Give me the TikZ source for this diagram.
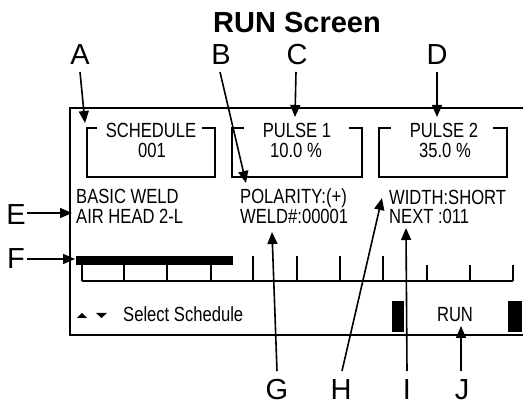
\documentclass[tikz,border=0pt]{standalone}
\usepackage{fontspec}
\setmainfont{Liberation Sans}
\newfontfamily\scrfont[FakeStretch=0.81]{Liberation Sans}
\usetikzlibrary{arrows.meta}
\tikzset{
  scr/.style={font=\scrfont\fontsize{20.5}{24}\selectfont, inner sep=0pt},
  lab/.style={font=\fontsize{29}{32}\selectfont, inner sep=0pt, anchor=base},
  frame/.style={line width=1.8pt, line cap=rect},
  tick/.style={line width=1.6pt},
  arr/.style={line width=1.6pt, -{Triangle[length=12pt,width=10pt]}},
}
\begin{document}
\begin{tikzpicture}[x=1pt,y=-1pt]
\useasboundingbox (0,0) rectangle (523,406);
% title
\node[lab, font=\bfseries\fontsize{29}{32}\selectfont] (title) at (297,33) {RUN Screen};
% outer screen frame
\draw[frame] (523,108) -- (70,108) -- (70,335) -- (523,335);
% boxes
\draw[frame] (96,128) -- (87,128) -- (87,177) -- (215,177) -- (215,128) -- (203,128);
\draw[frame] (243,128) -- (232,128) -- (232,177) -- (362,177) -- (362,128) -- (350,128);
\draw[frame] (390,128) -- (379,128) -- (379,177) -- (507,177) -- (507,128) -- (494,128);
\node[scr, anchor=base] (sch) at (151,138) {SCHEDULE};
\node[scr, anchor=base] (schn) at (152,158) {001};
\node[scr, anchor=base] (p1) at (297,138) {PULSE 1};
\node[scr, anchor=base] (p1n) at (296,158) {10.0 \%};
\node[scr, anchor=base] (p2) at (444,138) {PULSE 2};
\node[scr, anchor=base] (p2n) at (445,158) {35.0 \%};
% info text
\node[scr, anchor=base west] (bw) at (76,204) {BASIC WELD};
\node[scr, anchor=base west] (ah) at (76,224) {AIR HEAD 2-L};
\node[scr, anchor=base west] (pol) at (240,204) {POLARITY:(+)};
\node[scr, anchor=base west] (wn) at (240,224) {WELD\#:00001};
\node[scr, anchor=base west] (wd) at (389,205) {WIDTH:SHORT};
\node[scr, anchor=base west] (nx) at (389,224) {NEXT :011};
% progress bar and scale
\fill (76,256) rectangle (233,265);
\draw[tick] (82,281) -- (513,281);
\foreach \x in {82,124,167,211} \draw[tick] (\x,265) -- (\x,281);
\foreach \x in {253,297,340,383} \draw[tick] (\x,256) -- (\x,281);
\foreach \x in {427,470,513} \draw[tick] (\x,265) -- (\x,281);
% bottom row
\fill (77,318) -- (87,318) -- (82,313) -- cycle;
\fill (96,313) -- (107,313) -- (101.5,318) -- cycle;
\node[scr, anchor=base west] (sel) at (123,322) {Select Schedule};
\fill (392,301) rectangle (404,332);
\fill (508,301) rectangle (522,332);
\node[scr, anchor=base] (run) at (455,322) {RUN};
% labels
\node[lab] (lA) at (80,65) {A};
\node[lab] (lB) at (221,65) {B};
\node[lab] (lC) at (297,65) {C};
\node[lab] (lD) at (437,65) {D};
\node[lab] (lE) at (16,225) {E};
\node[lab] (lF) at (16,269) {F};
\node[lab] (lG) at (277,400) {G};
\node[lab] (lH) at (341,400) {H};
\node[lab] (lI) at (407,400) {I};
\node[lab] (lJ) at (462,400) {J};
% connector ends
\coordinate (sA) at (80,72);   \coordinate (tA) at (85,123);
\coordinate (sB) at (220,72);  \coordinate (tB) at (246,183);
\coordinate (sC) at (296,72);  \coordinate (tC) at (295,117);
\coordinate (sD) at (437,72);  \coordinate (tD) at (437,117);
\coordinate (sE) at (27,213);  \coordinate (tE) at (72,213);
\coordinate (sF) at (27,259);  \coordinate (tF) at (75,259);
\coordinate (sG) at (277,371); \coordinate (tG) at (272,232);
\coordinate (sH) at (342,371); \coordinate (tH) at (382,198);
\coordinate (sI) at (407,371); \coordinate (tI) at (406,228);
\coordinate (sJ) at (461,371); \coordinate (tJ) at (461,326);
\foreach \k in {A,B,C,D,E,F,G,H,I,J} \draw[arr] (s\k) -- (t\k);
\end{tikzpicture}
\end{document}
